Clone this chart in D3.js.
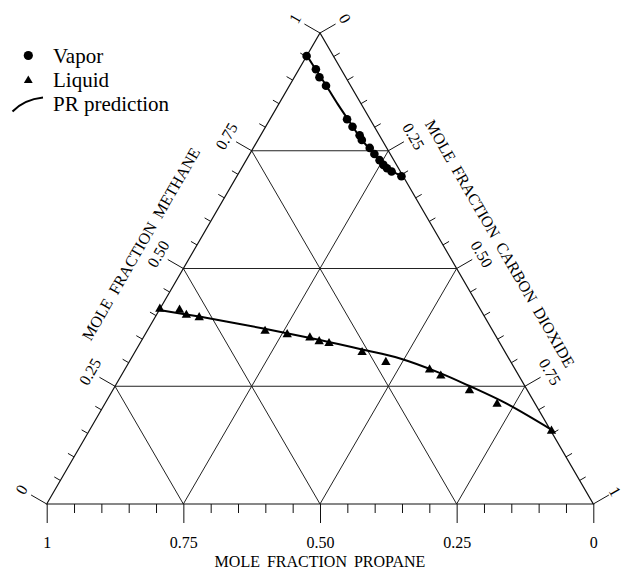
<!DOCTYPE html>
<html>
<head>
<meta charset="utf-8">
<script src="https://cdn.jsdelivr.net/npm/d3@7"></script>
<style>
  body { margin: 0; background: #fff; }
  svg text { font-family: "Liberation Serif", "Times New Roman", serif; fill: #000; }
</style>
</head>
<body>
<svg id="ternarySVG"></svg>
<script>
const vaporMethane = [0.951, 0.923, 0.906, 0.888, 0.817, 0.801, 0.783, 0.773, 0.756, 0.743, 0.730, 0.720, 0.713, 0.706, 0.696];
const vaporCO2 = [0.000, 0.031, 0.046, 0.067, 0.141, 0.159, 0.181, 0.190, 0.213, 0.228, 0.244, 0.256, 0.266, 0.278, 0.301];
const liquidMethane = [0.414, 0.412, 0.401, 0.396, 0.367, 0.360, 0.353, 0.345, 0.341, 0.322, 0.301, 0.285, 0.272, 0.241, 0.212, 0.155];
const liquidCO2 = [0.000, 0.037, 0.055, 0.081, 0.216, 0.260, 0.305, 0.326, 0.346, 0.416, 0.470, 0.558, 0.585, 0.653, 0.718, 0.846];
// Peng-Robinson prediction curves
const prVaporMethane = [0.952, 0.9225, 0.8885, 0.849, 0.810, 0.773, 0.743, 0.7144, 0.696];
const prVaporCO2 = [0.000, 0.031, 0.067, 0.108, 0.150, 0.190, 0.228, 0.264, 0.302];
const prLiquidMethane = [0.412, 0.398, 0.372, 0.348, 0.328, 0.309, 0.278, 0.251, 0.213, 0.157];
const prLiquidCO2 = [0.000, 0.080, 0.213, 0.326, 0.413, 0.492, 0.581, 0.647, 0.735, 0.846];
// axes
const majorTicks = [0, 0.25, 0.5, 0.75, 1];
const majorLabels = ['0', '0.25', '0.50', '0.75', '1'];
const gridValues = [0.25, 0.5, 0.75];
const legendItems = ['Vapor', 'Liquid', 'PR prediction'];

(function() {
  const svgDim = { w: 624, h: 569, left: 46.7, right: 593.3, top: 33, bottom: 504 },
    font = '"Liberation Serif", "Times New Roman", serif',
    $svg = d3.select('#ternarySVG');
  $svg.attr('width', svgDim.w).attr('height', svgDim.h);

  const xScale = d3.scaleLinear().domain([0, 1]).range([svgDim.left, svgDim.right]),
    yScale = d3.scaleLinear().domain([0, 1]).range([svgDim.bottom, svgDim.top]),
    propaneScale = d3.scaleLinear().domain([1, 0]).range([svgDim.left, svgDim.right]);
  // (methane, co2) -> screen
  const project = (m, c) => [xScale(c + m / 2), yScale(m)];
  const nLeft = [-Math.sqrt(3) / 2, -0.5],
    nRight = [Math.sqrt(3) / 2, -0.5];
  const allTicks = d3.range(0, 21).map((i) => i / 20);
  const isMajor = (t) => Math.abs(t * 4 - Math.round(t * 4)) < 1e-6;

  // grid
  const grid = [];
  gridValues.forEach((v) => {
    grid.push([project(v, 0), project(v, 1 - v)]);
    grid.push([project(0, 1 - v), project(1 - v, 0)]);
    grid.push([project(0, v), project(1 - v, v)]);
  });
  $svg.append('g').selectAll('line').data(grid).enter().append('line')
    .attr('x1', (d) => d[0][0]).attr('y1', (d) => d[0][1])
    .attr('x2', (d) => d[1][0]).attr('y2', (d) => d[1][1])
    .attr('stroke', '#222').attr('stroke-width', 1);

  // triangle outline
  $svg.append('path')
    .attr('d', d3.line()([project(0, 0), project(1, 0), project(0, 1)]) + 'Z')
    .attr('fill', 'none').attr('stroke', '#111').attr('stroke-width', 1.2);

  // bottom axis (propane)
  $svg.append('g').call(d3.axisBottom(propaneScale).tickValues(allTicks.filter((t) => !isMajor(t))).tickSize(9).tickFormat(''))
    .attr('transform', 'translate(0,' + svgDim.bottom + ')');
  const $bottom = $svg.append('g').call(
    d3.axisBottom(propaneScale).tickValues(majorTicks).tickSize(19).tickPadding(14)
      .tickFormat((d, i) => majorLabels[i])
  ).attr('transform', 'translate(0,' + svgDim.bottom + ')');
  $svg.selectAll('.domain').remove();
  $svg.selectAll('.tick line').attr('stroke', '#111');
  $bottom.selectAll('text').attr('font-size', 16).attr('font-family', font);

  // slanted axes
  const drawSide = (pointFor, normal, angle) => {
    const $g = $svg.append('g');
    $g.selectAll('line').data(allTicks).enter().append('line')
      .attr('x1', (t) => pointFor(t)[0]).attr('y1', (t) => pointFor(t)[1])
      .attr('x2', (t) => pointFor(t)[0] + normal[0] * (isMajor(t) ? 18 : 7))
      .attr('y2', (t) => pointFor(t)[1] + normal[1] * (isMajor(t) ? 18 : 7))
      .attr('stroke', '#111').attr('stroke-width', 1);
    $g.selectAll('text').data(majorTicks).enter().append('text')
      .text((t, i) => majorLabels[i])
      .attr('font-size', 16)
      .attr('font-family', font)
      .attr('text-anchor', 'middle')
      .attr('dominant-baseline', 'central')
      .attr('transform', (t) => {
        const p = pointFor(t),
          dist = (t == 1 && angle > 0) ? 25 : 29;
        return 'translate(' + (p[0] + normal[0] * dist) + ',' + (p[1] + normal[1] * dist) + ') rotate(' + angle + ')';
      });
  };
  drawSide((t) => project(t, 0), nLeft, -60);
  drawSide((t) => project(1 - t, t), nRight, 60);

  // titles
  const leftMid = project(0.5, 0),
    rightMid = project(0.5, 0.5);
  $svg.append('text').text('MOLE FRACTION METHANE')
    .attr('font-size', 16).attr('word-spacing', 4).attr('font-family', font)
    .attr('text-anchor', 'middle').attr('dominant-baseline', 'central')
    .attr('transform', 'translate(' + (leftMid[0] + nLeft[0] * 49) + ',' + (leftMid[1] + nLeft[1] * 49) + ') rotate(-60)');
  $svg.append('text').text('MOLE FRACTION CARBON DIOXIDE')
    .attr('font-size', 16).attr('word-spacing', 4).attr('font-family', font)
    .attr('text-anchor', 'middle').attr('dominant-baseline', 'central')
    .attr('transform', 'translate(' + (rightMid[0] + nRight[0] * 50) + ',' + (rightMid[1] + nRight[1] * 50) + ') rotate(60)');
  $svg.append('text').text('MOLE FRACTION PROPANE')
    .attr('font-size', 16).attr('word-spacing', 3).attr('font-family', font)
    .attr('text-anchor', 'middle')
    .attr('x', propaneScale(0.5)).attr('y', 566.5);

  // PR curves
  const prLine = d3.line().curve(d3.curveCatmullRom);
  [[prVaporMethane, prVaporCO2], [prLiquidMethane, prLiquidCO2]].forEach((s) => {
    $svg.append('path')
      .attr('d', prLine(s[0].map((m, i) => project(m, s[1][i]))))
      .attr('fill', 'none').attr('stroke', '#000').attr('stroke-width', 2);
  });

  // data
  $svg.append('g').selectAll('circle').data(vaporMethane).enter().append('circle')
    .attr('cx', (m, i) => project(m, vaporCO2[i])[0])
    .attr('cy', (m, i) => project(m, vaporCO2[i])[1])
    .attr('r', 4.3).attr('fill', '#000');
  const tri = d3.symbol(d3.symbolTriangle).size(38);
  $svg.append('g').selectAll('path').data(liquidMethane).enter().append('path')
    .attr('d', tri)
    .attr('transform', (m, i) => 'translate(' + project(m, liquidCO2[i]) + ')')
    .attr('fill', '#000');

  // legend
  const $legend = $svg.append('g');
  $legend.selectAll('text').data(legendItems).enter().append('text')
    .text((d) => d)
    .attr('x', 53)
    .attr('y', (d, i) => 63 + 23.8 * i)
    .attr('font-size', 21)
    .attr('font-family', font);
  $legend.append('circle').attr('cx', 28.3).attr('cy', 55.5).attr('r', 4.6).attr('fill', '#000');
  $legend.append('path').attr('d', d3.symbol(d3.symbolTriangle).size(34)).attr('transform', 'translate(28.3,80.5)').attr('fill', '#000');
  $legend.append('path').attr('d', 'M12.5,111.5 Q24,99.5 43,97.5').attr('fill', 'none').attr('stroke', '#000').attr('stroke-width', 2);
})();
</script>
</body>
</html>
